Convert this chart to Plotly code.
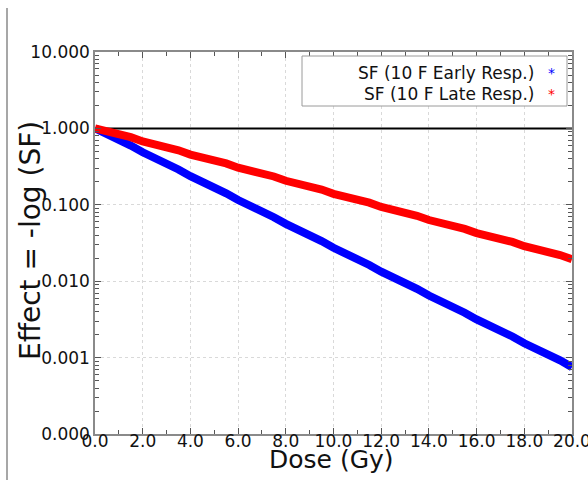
import plotly.graph_objects as go

dose = [0.0, 0.5, 1.0, 1.5, 2.0, 2.5, 3.0, 3.5, 4.0, 4.5, 5.0, 5.5, 6.0, 6.5, 7.0, 7.5,
        8.0, 8.5, 9.0, 9.5, 10.0, 10.5, 11.0, 11.5, 12.0, 12.5, 13.0, 13.5, 14.0, 14.5,
        15.0, 15.5, 16.0, 16.5, 17.0, 17.5, 18.0, 18.5, 19.0, 19.5, 20.0]

sf_early = [1.0, 0.854, 0.719, 0.596, 0.487, 0.416, 0.350, 0.290, 0.2372, 0.2026, 0.1705, 0.1414,
            0.1155, 0.0986, 0.0830, 0.0688, 0.0563, 0.0480, 0.0404, 0.0335, 0.0274, 0.0234,
            0.0197, 0.0163, 0.01334, 0.01139, 0.00959, 0.00795, 0.00650, 0.00555, 0.00467,
            0.00387, 0.00316, 0.00270, 0.00227, 0.00189, 0.00154, 0.00132, 0.00111, 0.00092,
            0.00075]

sf_late = [1.0, 0.933, 0.854, 0.767, 0.674, 0.629, 0.576, 0.517, 0.4543, 0.424, 0.388, 0.348,
           0.3062, 0.2858, 0.2616, 0.2347, 0.2064, 0.1927, 0.1763, 0.1582, 0.1391, 0.1298,
           0.1188, 0.1066, 0.0938, 0.0875, 0.0801, 0.0719, 0.0632, 0.0590, 0.0540, 0.0484,
           0.0426, 0.0398, 0.0364, 0.0327, 0.0287, 0.0268, 0.0245, 0.0220, 0.0194]

ref_x = [0.0, 20.0]
ref_y = [1.0, 1.0]

legend_names = ["SF (10 F Early Resp.)", "SF (10 F Late Resp.)"]
colors = ["#0000ff", "#ff0000"]

FONT = "DejaVu Sans"

fig = go.Figure()
fig.add_trace(go.Scatter(x=ref_x, y=ref_y, mode="lines",
                         line=dict(color="black", width=2), showlegend=False, hoverinfo="skip"))
fig.add_trace(go.Scatter(x=dose, y=sf_early, mode="lines", name=legend_names[0],
                         line=dict(color=colors[0], width=8), showlegend=False))
fig.add_trace(go.Scatter(x=dose, y=sf_late, mode="lines", name=legend_names[1],
                         line=dict(color=colors[1], width=8), showlegend=False))

axis_common = dict(
    showline=True, linecolor="#8a8a8a", linewidth=1.5, mirror="ticks",
    ticks="inside", tickcolor="#555555", ticklen=6, tickwidth=1,
    showgrid=True, gridcolor="#d9d9d9", griddash="dot", gridwidth=1,
    zeroline=False, ticklabeloverflow="allow", automargin=False,
    tickfont=dict(family=FONT, size=17, color="#111111"),
)

fig.update_xaxes(range=[0, 20], tick0=0, dtick=2, tickformat=".1f", ticklabelstandoff=-9,
                 minor=dict(ticks="inside", ticklen=4, dtick=1, tickcolor="#555555", showgrid=False),
                 **axis_common)
fig.update_yaxes(type="log", range=[-4, 1], tick0=0, dtick=1, tickformat=".3f",
                 minor=dict(ticks="inside", ticklen=4, dtick="D1", tickcolor="#555555", showgrid=False),
                 **axis_common)

W, H = 588, 485
L, R, T, B = 95, 572, 52, 434
pw, ph = R - L, B - T

def px(x):
    return (x - L) / pw

def py(y):
    return (B - y) / ph

shapes = [
    dict(type="rect", xref="paper", yref="paper", x0=px(302), x1=px(567), y0=py(106), y1=py(56),
         line=dict(color="#9a9a9a", width=1), fillcolor="white", layer="above"),
    dict(type="line", xref="paper", yref="paper", x0=px(7), x1=px(7), y0=py(480), y1=py(8),
         line=dict(color="#8a8a8a", width=1.5)),
]

annotations = [
    dict(text="Dose (Gy)", xref="paper", yref="paper", x=px(331), y=py(459),
         xanchor="center", yanchor="middle", showarrow=False,
         font=dict(family=FONT, size=25, color="#111111")),
    dict(text="Effect = -log (SF)", xref="paper", yref="paper", x=px(30), y=py(241),
         xanchor="center", yanchor="middle", showarrow=False, textangle=-90,
         font=dict(family=FONT, size=28, color="#111111")),
]
row_y = [73, 94]
for name, col, ry in zip(legend_names, colors, row_y):
    annotations.append(dict(text=name, xref="paper", yref="paper", x=px(536), y=py(ry),
                            xanchor="right", yanchor="middle", showarrow=False,
                            font=dict(family=FONT, size=17, color="#111111")))
    annotations.append(dict(text="*", xref="paper", yref="paper", x=px(551), y=py(ry),
                            xanchor="center", yanchor="middle", showarrow=False,
                            font=dict(family=FONT, size=14, color=col)))

fig.update_layout(
    width=W, height=H,
    margin=dict(l=L, r=W - R, t=T, b=H - B, pad=0, autoexpand=False),
    paper_bgcolor="white", plot_bgcolor="white",
    showlegend=False,
    shapes=shapes, annotations=annotations,
)

fig.write_html("out.html")
